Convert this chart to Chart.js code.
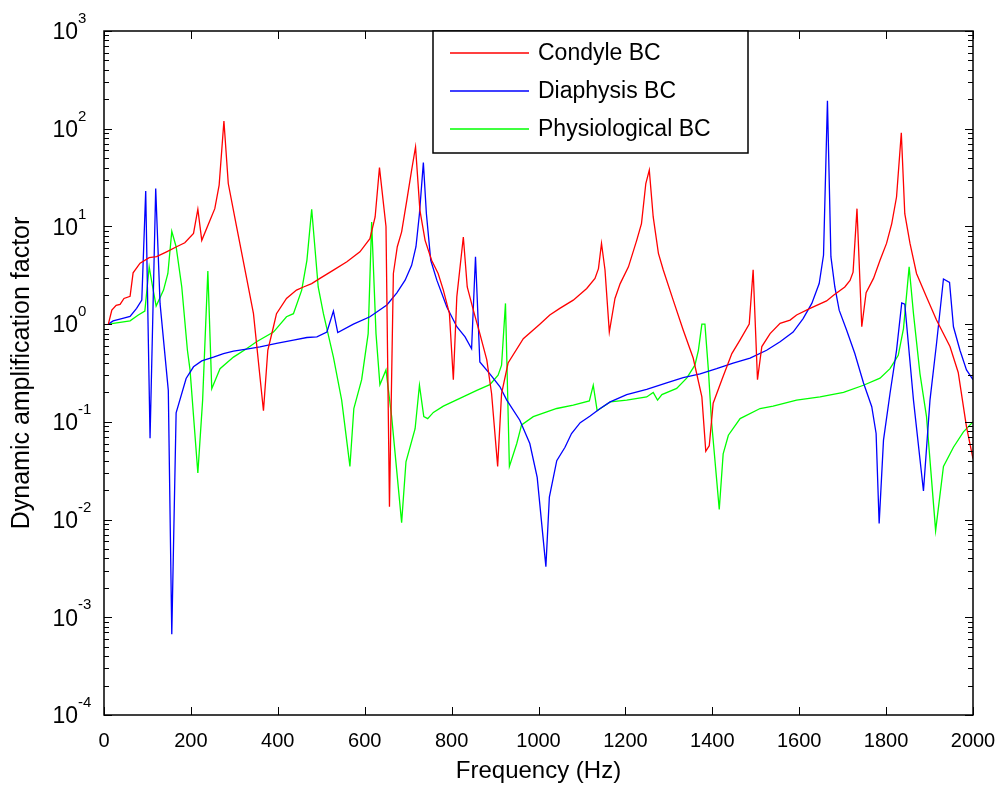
<!DOCTYPE html>
<html>
<head>
<meta charset="utf-8">
<script src="https://cdn.jsdelivr.net/npm/chart.js@4.4.0/dist/chart.umd.min.js"></script>
<style>
  html, body { margin: 0; padding: 0; background: #fff; }
  canvas { display: block; }
</style>
</head>
<body>
<canvas id="chart" width="1004" height="789" style="width:1004px;height:789px"></canvas>
<script>
// frequencies (Hz) and amplification factors
const condyleFreq = [
  10, 18, 28, 37, 46, 60, 67, 83, 104, 121,
  144, 167, 186, 206, 216, 225, 244, 255, 265, 276,
  286, 305, 328, 344, 367, 377, 390, 397, 420, 443,
  459, 478, 497, 528, 559, 589, 612, 624, 634, 649,
  657, 666, 675, 685, 697, 708, 717, 727, 739, 754,
  769, 781, 795, 804, 812, 827, 836, 850, 865, 881,
  892, 906, 915, 930, 965, 1003, 1026, 1049, 1080, 1111,
  1130, 1138, 1145, 1153, 1163, 1176, 1188, 1207, 1226, 1237,
  1247, 1255, 1264, 1276, 1287, 1310, 1333, 1356, 1376, 1385,
  1393, 1402, 1422, 1445, 1464, 1485, 1494, 1504, 1514, 1533,
  1556, 1579, 1594, 1625, 1663, 1679, 1705, 1717, 1724, 1733,
  1744, 1754, 1771, 1786, 1801, 1813, 1824, 1835, 1843, 1855,
  1870, 1893, 1916, 1947, 1966, 1985, 2000
];
const condyleVals = [
  1.0, 1.39, 1.56, 1.59, 1.83, 1.93, 3.35, 4.2, 4.8, 4.9,
  5.5, 6.2, 6.8, 8.5, 15, 7.2, 11.6, 15.2, 26.5, 120,
  27.5, 10, 3.0, 1.28, 0.13, 0.54, 0.94, 1.28, 1.83, 2.23,
  2.4, 2.6, 2.94, 3.57, 4.35, 5.5, 7.5, 12.5, 40, 10,
  0.0135, 3.3, 6.2, 8.8, 18.6, 37.7, 65, 14.7, 7.2, 4.5,
  3.3, 2.23, 1.28, 0.27, 1.9, 7.8, 2.4, 1.39, 0.8, 0.43,
  0.195, 0.035, 0.195, 0.4, 0.71, 1.0, 1.24, 1.45, 1.76, 2.32,
  2.94, 3.7, 6.7, 3.6, 0.83, 1.83, 2.6, 3.86, 7.2, 10.7,
  27.5, 37.7, 12.5, 5.3, 3.6, 1.76, 0.87, 0.45, 0.18, 0.05,
  0.057, 0.155, 0.27, 0.5, 0.69, 1.0, 3.6, 0.27, 0.59, 0.8,
  1.02, 1.1, 1.24, 1.45, 1.73, 1.98, 2.4, 2.8, 3.4, 15.2,
  0.94, 2.1, 2.94, 4.5, 6.7, 10.7, 20, 91, 13.5, 6.7,
  3.3, 1.9, 1.1, 0.59, 0.32, 0.089, 0.042
];

const diaphysisFreq = [
  10, 21, 41, 60, 75, 87, 96, 106, 119, 129,
  148, 156, 166, 189, 206, 225, 252, 275, 298, 328,
  359, 397, 436, 467, 490, 513, 528, 538, 574, 612,
  651, 674, 693, 708, 718, 726, 735, 742, 752, 766,
  789, 812, 831, 846, 855, 865, 888, 911, 927, 957,
  980, 997, 1017, 1025, 1042, 1061, 1076, 1096, 1118, 1142,
  1165, 1203, 1249, 1295, 1333, 1372, 1410, 1448, 1487, 1525,
  1556, 1586, 1609, 1629, 1646, 1656, 1665, 1673, 1682, 1692,
  1709, 1728, 1748, 1767, 1777, 1784, 1794, 1809, 1824, 1836,
  1843, 1863, 1886, 1901, 1916, 1932, 1946, 1955, 1970, 1985,
  2000
];
const diaphysisVals = [
  1.0, 1.08, 1.14, 1.2, 1.45, 1.76, 23, 0.068, 24.5, 1.63,
  0.21, 0.00067, 0.124, 0.278, 0.366, 0.42, 0.46, 0.5, 0.53, 0.555,
  0.585, 0.634, 0.686, 0.73, 0.74, 0.83, 1.36, 0.82, 1.0, 1.19,
  1.57, 2.09, 2.82, 4.0, 6.2, 13.5, 45, 13.5, 4.5, 2.82,
  1.5, 0.94, 0.74, 0.56, 4.9, 0.41, 0.31, 0.23, 0.167, 0.104,
  0.06, 0.027, 0.0033, 0.017, 0.04, 0.055, 0.076, 0.098, 0.114, 0.137,
  0.16, 0.19, 0.215, 0.25, 0.284, 0.31, 0.35, 0.4, 0.45, 0.54,
  0.66, 0.83, 1.14, 1.63, 2.6, 5.1, 193, 4.9, 2.4, 1.39,
  0.87, 0.5, 0.25, 0.143, 0.076, 0.0091, 0.065, 0.195, 0.54, 1.65,
  1.6, 0.167, 0.0196, 0.167, 0.63, 2.9, 2.67, 0.94, 0.54, 0.34,
  0.27
];

const physioFreq = [
  10, 60, 79, 94, 104, 112, 120, 137, 147, 156,
  166, 179, 192, 198, 216, 227, 239, 248, 267, 298,
  328, 351, 390, 420, 436, 455, 467, 478, 493, 505,
  528, 547, 566, 575, 593, 608, 616, 626, 635, 649,
  662, 685, 695, 716, 726, 736, 745, 758, 781, 819,
  858, 888, 907, 915, 924, 933, 950, 961, 988, 1042,
  1080, 1117, 1126, 1135, 1165, 1203, 1249, 1264, 1274, 1284,
  1318, 1341, 1360, 1368, 1376, 1383, 1391, 1398, 1416, 1425,
  1437, 1464, 1510, 1540, 1594, 1648, 1702, 1748, 1786, 1809,
  1828, 1840, 1853, 1863, 1878, 1893, 1914, 1932, 1955, 1978,
  2000
];
const physioVals = [
  1.0, 1.08, 1.24, 1.36, 3.86, 2.4, 1.53, 2.23, 3.3, 8.9,
  6.2, 2.4, 0.54, 0.34, 0.03, 0.167, 3.5, 0.218, 0.35, 0.46,
  0.56, 0.66, 0.83, 1.19, 1.28, 2.23, 4.5, 15, 2.4, 1.28,
  0.46, 0.167, 0.035, 0.137, 0.27, 0.8, 11.1, 0.8, 0.24, 0.34,
  0.113, 0.0093, 0.039, 0.085, 0.237, 0.113, 0.108, 0.125, 0.145, 0.174,
  0.21, 0.24, 0.3, 0.38, 1.63, 0.035, 0.06, 0.093, 0.113, 0.137,
  0.148, 0.164, 0.237, 0.13, 0.16, 0.167, 0.18, 0.2, 0.167, 0.19,
  0.22, 0.28, 0.38, 0.54, 1.0, 1.0, 0.34, 0.104, 0.0127, 0.047,
  0.073, 0.108, 0.137, 0.145, 0.167, 0.18, 0.2, 0.237, 0.28, 0.35,
  0.48, 0.9, 3.86, 1.28, 0.31, 0.113, 0.0077, 0.035, 0.055, 0.079,
  0.1
];

const xTicks = [0, 200, 400, 600, 800, 1000, 1200, 1400, 1600, 1800, 2000];
const yExponents = [-4, -3, -2, -1, 0, 1, 2, 3];

const FONT = "Arial, 'Liberation Sans', Helvetica, sans-serif";

function toPoints(freq, vals) {
  return freq.map((f, i) => ({ x: f, y: vals[i] }));
}

// MATLAB-style box, inward ticks, 10^n labels and the legend
const matlabFrame = {
  id: "matlabFrame",
  afterDraw(chart) {
    const { ctx, chartArea: a, scales } = chart;
    const xs = scales.x, ys = scales.y;
    ctx.save();
    ctx.strokeStyle = "#000";
    ctx.lineWidth = 1.5;
    ctx.strokeRect(a.left, a.top, a.right - a.left, a.bottom - a.top);

    ctx.lineWidth = 1;
    ctx.beginPath();
    xTicks.forEach((t) => {
      const px = Math.round(xs.getPixelForValue(t)) + 0.5;
      ctx.moveTo(px, a.bottom); ctx.lineTo(px, a.bottom - 8);
      ctx.moveTo(px, a.top); ctx.lineTo(px, a.top + 8);
    });
    yExponents.forEach((e) => {
      for (let m = 1; m <= 9; m++) {
        const v = m * Math.pow(10, e);
        if (v > 1000) break;
        const py = Math.round(ys.getPixelForValue(v)) + 0.5;
        const len = m === 1 ? 8 : 5;
        ctx.moveTo(a.left, py); ctx.lineTo(a.left + len, py);
        ctx.moveTo(a.right, py); ctx.lineTo(a.right - len, py);
      }
    });
    ctx.stroke();

    // y tick labels: "10" with superscript exponent
    ctx.fillStyle = "#000";
    ctx.textBaseline = "middle";
    yExponents.forEach((e) => {
      const py = ys.getPixelForValue(Math.pow(10, e));
      ctx.font = "23px " + FONT;
      ctx.textAlign = "right";
      ctx.fillText("10", 78, py + 2);
      ctx.font = "15px " + FONT;
      ctx.textAlign = "left";
      ctx.fillText(String(e), 78, py - 12);
    });

    // legend box
    const lx = 433, ly = 31, lw = 315, lh = 122;
    ctx.fillStyle = "#fff";
    ctx.fillRect(lx, ly, lw, lh);
    ctx.lineWidth = 1.5;
    ctx.strokeRect(lx, ly, lw, lh);
    const rows = [53, 91, 129];
    chart.data.datasets.forEach((ds, i) => {
      ctx.strokeStyle = ds.borderColor;
      ctx.lineWidth = 1.3;
      ctx.beginPath();
      ctx.moveTo(450, rows[i]);
      ctx.lineTo(529, rows[i]);
      ctx.stroke();
      ctx.fillStyle = "#000";
      ctx.font = "23px " + FONT;
      ctx.textAlign = "left";
      ctx.textBaseline = "middle";
      ctx.fillText(ds.label, 538, rows[i] + 1);
    });
    ctx.restore();
  }
};

const lineStyle = { borderWidth: 1.3, pointRadius: 0, tension: 0, fill: false };

new Chart(document.getElementById("chart"), {
  type: "line",
  data: {
    datasets: [
      { label: "Condyle BC", data: toPoints(condyleFreq, condyleVals), borderColor: "#ff0000", ...lineStyle },
      { label: "Diaphysis BC", data: toPoints(diaphysisFreq, diaphysisVals), borderColor: "#0000ff", ...lineStyle },
      { label: "Physiological BC", data: toPoints(physioFreq, physioVals), borderColor: "#00ff00", ...lineStyle }
    ]
  },
  options: {
    responsive: false,
    animation: false,
    layout: { padding: { left: 0, top: 31, right: 31, bottom: 0 } },
    plugins: { legend: { display: false }, tooltip: { enabled: false } },
    scales: {
      x: {
        type: "linear",
        min: 0,
        max: 2000,
        afterBuildTicks: (scale) => { scale.ticks = xTicks.map((v) => ({ value: v })); },
        ticks: { color: "#000", font: { family: FONT, size: 20 }, padding: 14, maxRotation: 0, callback: (v) => String(v) },
        grid: { display: false, drawTicks: false },
        border: { display: false },
        title: { display: true, text: "Frequency (Hz)", color: "#000", font: { family: FONT, size: 24 }, padding: { top: 0, bottom: 3 } },
        afterFit: (scale) => {
          scale.height = 74;
          scale.paddingLeft = 0;
          scale.paddingRight = 0;
        }
      },
      y: {
        type: "logarithmic",
        min: 1e-4,
        max: 1e3,
        ticks: { display: false },
        grid: { display: false },
        border: { display: false },
        title: { display: true, text: "Dynamic amplification factor", color: "#000", font: { family: FONT, size: 25 }, padding: { top: 7, bottom: 0 } },
        afterFit: (scale) => { scale.width = 104; }
      }
    }
  },
  plugins: [matlabFrame]
});
</script>
</body>
</html>
